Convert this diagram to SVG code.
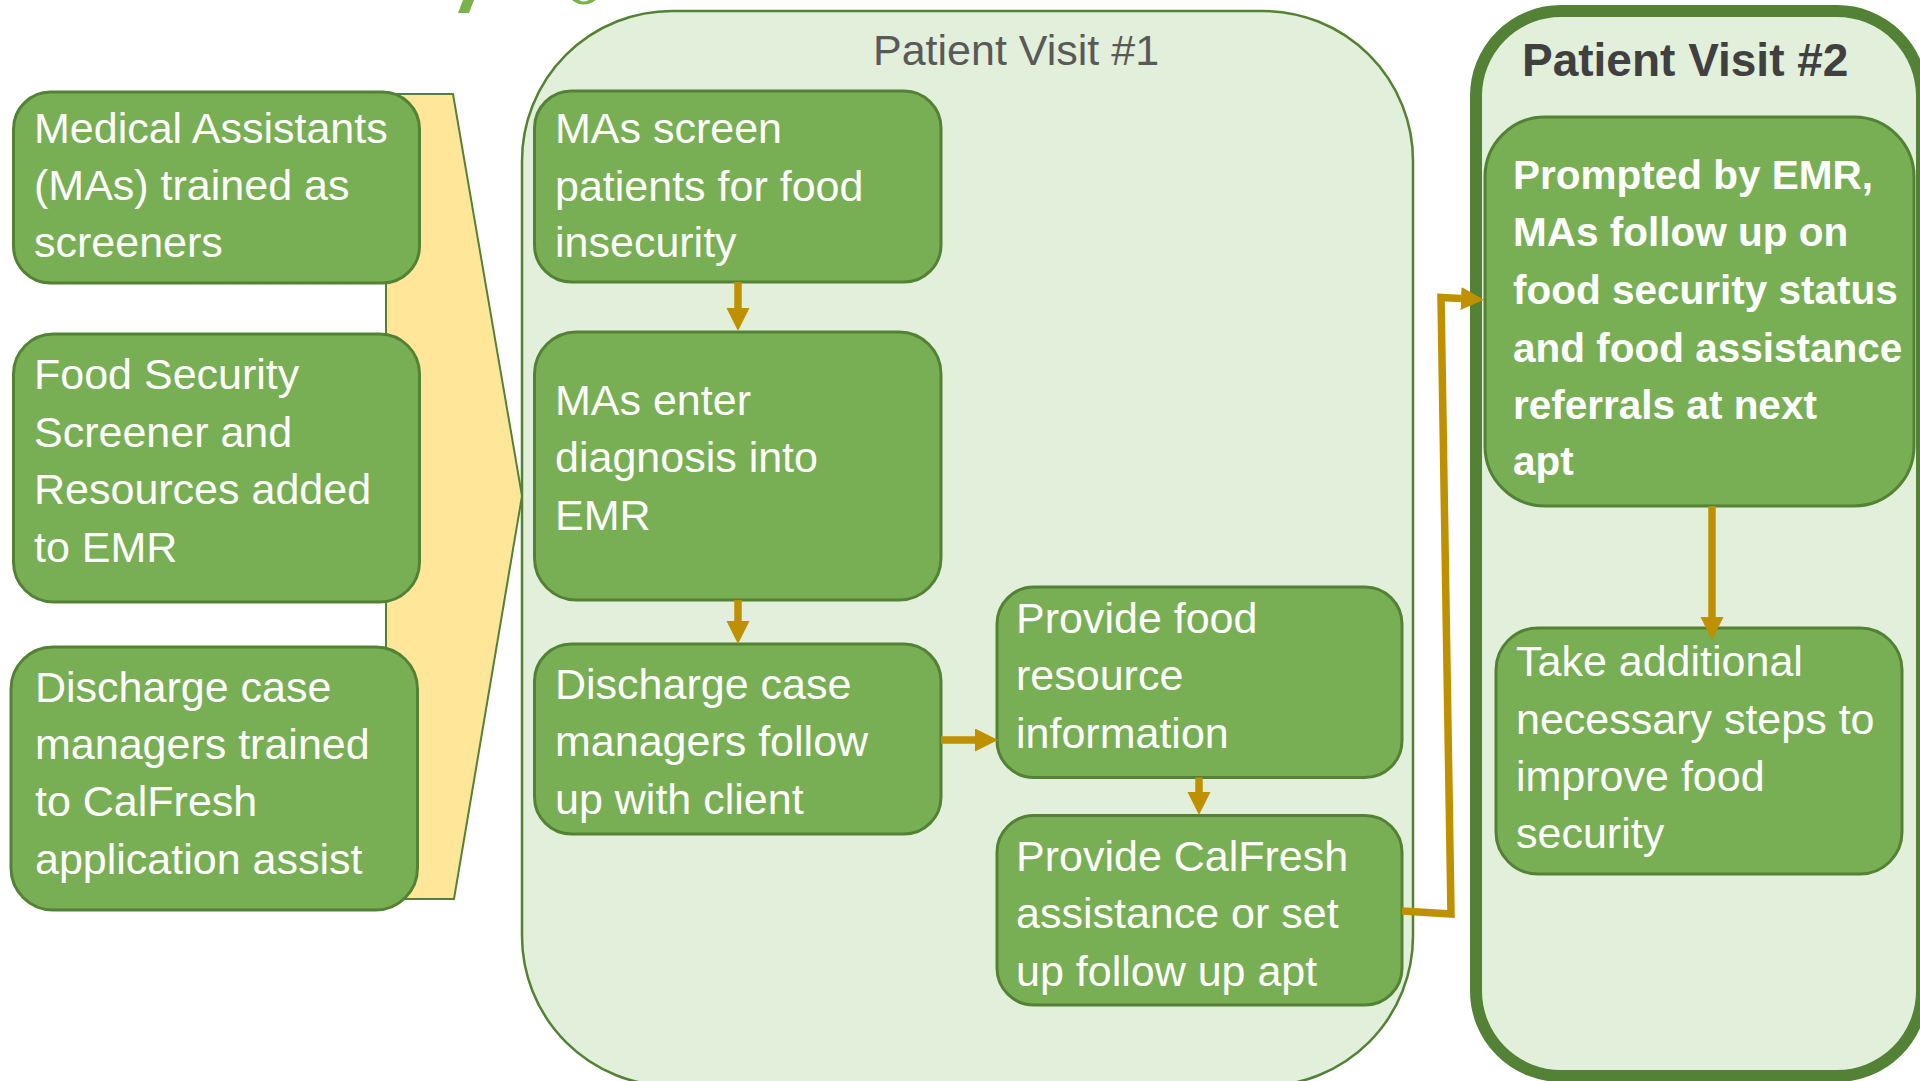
<svg xmlns="http://www.w3.org/2000/svg" width="1920" height="1081" viewBox="0 0 1920 1081">
<defs>
<style>
.box{fill:#79AF54;stroke:#548235;stroke-width:3}
.t{font-family:"Liberation Sans",Arial,sans-serif;font-size:43px;fill:#FFFFFF}
.tb{font-family:"Liberation Sans",Arial,sans-serif;font-size:40.5px;font-weight:bold;fill:#FFFFFF}
.conn{fill:none;stroke:#BF9000;stroke-width:7.5}
</style>
<marker id="ah" markerUnits="userSpaceOnUse" markerWidth="24" markerHeight="24" refX="0" refY="11.5" orient="auto">
<path d="M0,0 L23,11.5 L0,23 Z" fill="#BF9000"/>
</marker>
</defs>
<rect width="1920" height="1081" fill="#FFFFFF"/>
<g id="deco">
<path d="M463,0 L474,0 L469,13 L458,13 Z" fill="#77B24A"/>
<path d="M572,0 Q583,9 596,0 L589,0 Q583,3 579,0 Z" fill="#77B24A"/>
</g>
<g id="visit1">
<rect x="522" y="11" width="891" height="1075" rx="150" ry="150" fill="#E2EFDA" stroke="#548235" stroke-width="2.5"/>
<text x="873" y="65" font-family="'Liberation Sans',Arial,sans-serif" font-size="43" fill="#595959">Patient Visit #1</text>
</g>
<g id="visit2">
<rect x="1476" y="11" width="446" height="1065" rx="85" ry="85" fill="#E2EFDA" stroke="#538135" stroke-width="12"/>
<text x="1522" y="76" font-family="'Liberation Sans',Arial,sans-serif" font-size="46" font-weight="bold" fill="#404040">Patient Visit #2</text>
</g>
<g id="chevron">
<path d="M386,94 L453,94 L522,496 L454,899 L386,899 Z" fill="#FFE699" stroke="#548235" stroke-width="2"/>
</g>
<g id="nodeA">
<rect class="box" x="13.5" y="92" width="406" height="191" rx="37"/>
<text class="t" x="34" y="143">Medical Assistants</text>
<text class="t" x="34" y="200">(MAs) trained as</text>
<text class="t" x="34" y="257">screeners</text>
</g>
<g id="nodeB">
<rect class="box" x="13.5" y="334" width="406" height="268" rx="40"/>
<text class="t" x="34" y="389">Food Security</text>
<text class="t" x="34" y="447">Screener and</text>
<text class="t" x="34" y="504">Resources added</text>
<text class="t" x="34" y="562">to EMR</text>
</g>
<g id="nodeC">
<rect class="box" x="11" y="647" width="406.5" height="263" rx="42"/>
<text class="t" x="35" y="702">Discharge case</text>
<text class="t" x="35" y="759">managers trained</text>
<text class="t" x="35" y="816">to CalFresh</text>
<text class="t" x="35" y="874">application assist</text>
</g>
<g id="nodeD">
<rect class="box" x="534.5" y="91" width="406.5" height="191" rx="37"/>
<text class="t" x="555" y="143">MAs screen</text>
<text class="t" x="555" y="201">patients for food</text>
<text class="t" x="555" y="257">insecurity</text>
</g>
<g id="nodeE">
<rect class="box" x="534.5" y="332" width="406.5" height="268" rx="42"/>
<text class="t" x="555" y="415">MAs enter</text>
<text class="t" x="555" y="472">diagnosis into</text>
<text class="t" x="555" y="530">EMR</text>
</g>
<g id="nodeF">
<rect class="box" x="534.5" y="644" width="406.5" height="190" rx="37"/>
<text class="t" x="555" y="699">Discharge case</text>
<text class="t" x="555" y="756">managers follow</text>
<text class="t" x="555" y="814">up with client</text>
</g>
<g id="nodeG">
<rect class="box" x="997" y="587" width="405" height="190.5" rx="37"/>
<text class="t" x="1016" y="633">Provide food</text>
<text class="t" x="1016" y="690">resource</text>
<text class="t" x="1016" y="748">information</text>
</g>
<g id="nodeH">
<rect class="box" x="997" y="815.5" width="405" height="189.5" rx="37"/>
<text class="t" x="1016" y="871">Provide CalFresh</text>
<text class="t" x="1016" y="928">assistance or set</text>
<text class="t" x="1016" y="986">up follow up apt</text>
</g>
<g id="nodeI">
<rect class="box" x="1485" y="117" width="429" height="389" rx="60"/>
<text class="tb" x="1513" y="189">Prompted by EMR,</text>
<text class="tb" x="1513" y="246">MAs follow up on</text>
<text class="tb" x="1513" y="304">food security status</text>
<text class="tb" x="1513" y="362">and food assistance</text>
<text class="tb" x="1513" y="419">referrals at next</text>
<text class="tb" x="1513" y="475">apt</text>
</g>
<g id="nodeJ">
<rect class="box" x="1496" y="628" width="406" height="246" rx="42"/>
<text class="t" x="1516" y="676">Take additional</text>
<text class="t" x="1516" y="734">necessary steps to</text>
<text class="t" x="1516" y="791">improve food</text>
<text class="t" x="1516" y="848">security</text>
</g>
<g id="connectors">
<line class="conn" x1="738" y1="282" x2="738" y2="308" marker-end="url(#ah)"/>
<line class="conn" x1="738" y1="600" x2="738" y2="621" marker-end="url(#ah)"/>
<line class="conn" x1="941" y1="740" x2="975" y2="740" marker-end="url(#ah)"/>
<line class="conn" x1="1199" y1="777.5" x2="1199" y2="792" marker-end="url(#ah)"/>
<line class="conn" x1="1712" y1="506" x2="1712" y2="617" marker-end="url(#ah)"/>
<polyline class="conn" points="1402,911 1451,914 1441,297.5 1461,298.5" stroke-width="6.5" marker-end="url(#ah)"/>
</g>
</svg>
